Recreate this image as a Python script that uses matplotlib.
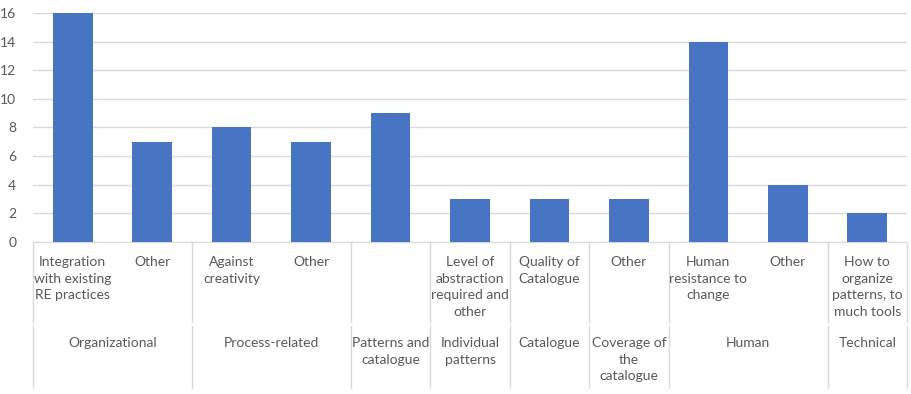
import numpy as np
import matplotlib.pyplot as plt

# level-1 (sub-category) labels and values
sub_labels = [
    "Integration\nwith existing\nRE practices", "Other",
    "Against\ncreativity", "Other",
    "",
    "Level of\nabstraction\nrequired and\nother",
    "Quality of\nCatalogue",
    "Other",
    "Human\nresistance to\nchange", "Other",
    "How to\norganize\npatterns, to\nmuch tools",
]
counts = [16, 7, 8, 7, 9, 3, 3, 3, 14, 4, 2]

# level-2 (group) labels and how many bars each spans
groups = ["Organizational", "Process-related", "Patterns and\ncatalogue",
          "Individual\npatterns", "Catalogue", "Coverage of\nthe\ncatalogue",
          "Human", "Technical"]
group_sizes = [2, 2, 1, 1, 1, 1, 2, 1]

text_color = "#595959"
line_color = "#D9D9D9"
plt.rcParams["font.family"] = ["Lato", "DejaVu Sans"]

fig = plt.figure(figsize=(9.11, 3.94), dpi=100)
W, H = 911, 394
left, right, top, bottom = 33, 907, 13, 242
ax = fig.add_axes([left / W, 1 - bottom / H, (right - left) / W, (bottom - top) / H])

x = np.arange(len(counts))
ax.bar(x, counts, width=0.5, color="#4874C4", zorder=3)
ax.set_xlim(-0.5, len(counts) - 0.5)
ax.set_ylim(0, 16)
ax.set_yticks(np.arange(0, 17, 2))
ax.yaxis.grid(True, color=line_color, linewidth=1)
ax.set_axisbelow(True)
ax.tick_params(axis="y", length=0, pad=12, labelsize=10, labelcolor=text_color)
ax.set_xticks([])
for s in ["top", "right", "left"]:
    ax.spines[s].set_visible(False)
ax.spines["bottom"].set_color(line_color)

tr = ax.get_xaxis_transform()
ah = bottom - top
row1_bot = -(322 - bottom) / ah
row2_top = -(326 - bottom) / ah
row2_bot = -(388 - bottom) / ah

for i, lab in enumerate(sub_labels):
    ax.text(i, -(256 - bottom) / ah, lab, transform=tr, ha="center", va="top",
            fontsize=10, color=text_color, linespacing=1.47)

edges = [-0.5]
for n in group_sizes:
    edges.append(edges[-1] + n)
for g, lab in enumerate(groups):
    cx = (edges[g] + edges[g + 1]) / 2
    ax.text(cx, -(337 - bottom) / ah, lab, transform=tr, ha="center", va="top",
            fontsize=10, color=text_color, linespacing=1.47)

for e in edges:
    ax.plot([e, e], [0, row1_bot], transform=tr, color=line_color, lw=1, clip_on=False)
    ax.plot([e, e], [row2_top, row2_bot], transform=tr, color=line_color, lw=1, clip_on=False)

fig.savefig("out.png", dpi=100)
